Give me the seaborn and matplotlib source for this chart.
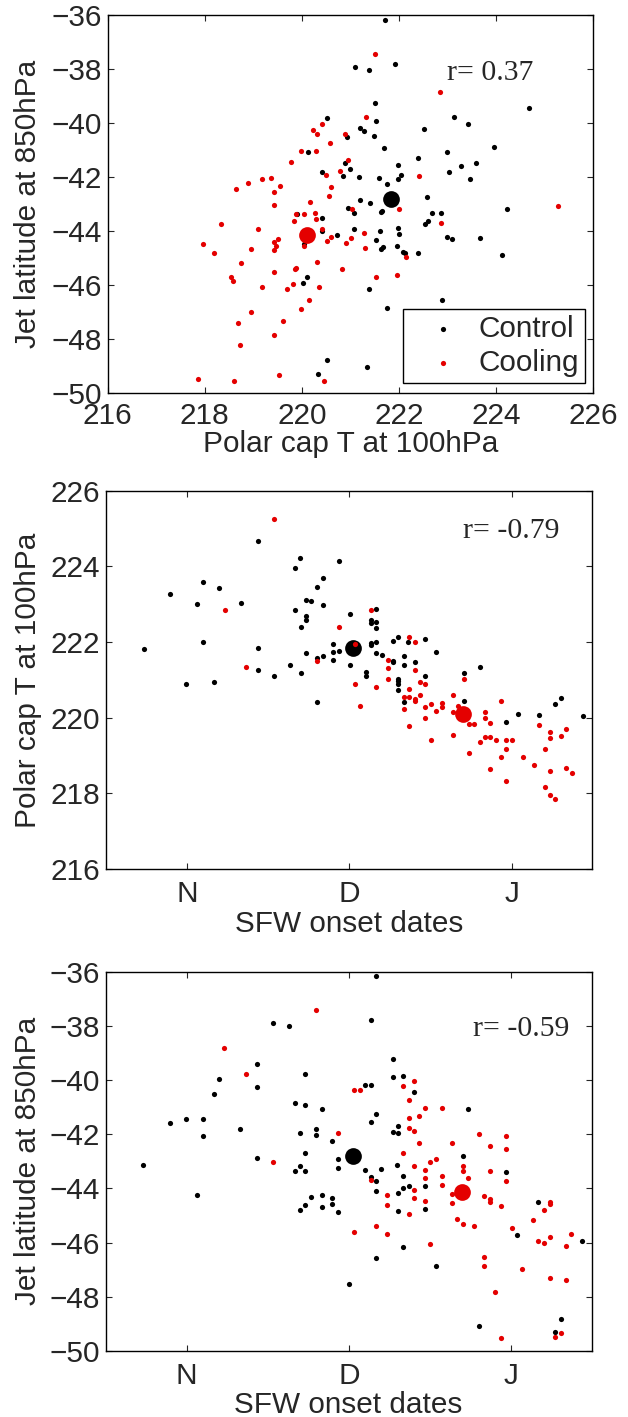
import matplotlib
matplotlib.use("Agg")
import matplotlib.pyplot as plt
import seaborn as sns

# ---- panel 1: polar cap T (x) vs jet latitude (y) ----
p1_ctl_T = [221.71, 221.91, 221.10, 221.38, 221.50, 224.68, 223.13, 221.52, 220.51, 223.43,
            221.20, 221.27, 222.52, 221.48, 220.93, 223.96, 221.69, 220.13, 222.99, 220.88,
            221.97, 223.58, 223.27, 221.00, 220.41, 223.03, 221.18, 220.85, 221.58, 222.04,
            221.99, 223.46, 222.39, 221.76, 222.58, 221.20, 221.41, 224.23, 220.95, 221.08,
            221.65, 221.62, 222.69, 222.86, 219.89, 220.41, 222.60, 222.53, 220.42, 221.61,
            221.97, 222.00, 220.73, 221.08, 222.99, 223.09, 223.67, 221.52, 220.05, 221.63,
            221.67, 221.96, 222.08, 222.13, 222.39, 224.12, 220.10, 220.03, 221.38, 222.88,
            221.75, 220.52, 221.34, 220.34]
p1_ctl_lat = [-36.19, -37.80, -37.92, -38.01, -39.26, -39.43, -39.78, -39.90, -39.82, -40.04,
              -40.18, -40.28, -40.20, -40.46, -40.51, -40.87, -40.91, -41.07, -41.08, -41.46,
              -41.54, -41.46, -41.59, -41.69, -41.80, -41.82, -41.97, -41.94, -42.01, -41.92,
              -42.07, -42.05, -41.27, -42.23, -42.72, -42.83, -42.96, -43.19, -43.13, -43.32,
              -43.24, -43.30, -43.33, -43.33, -43.35, -43.50, -43.60, -43.71, -43.97, -43.97,
              -43.86, -44.09, -44.15, -43.91, -44.20, -44.28, -44.25, -44.32, -44.48, -44.65,
              -44.58, -44.56, -44.75, -44.79, -44.79, -44.86, -45.70, -45.92, -46.14, -46.53,
              -46.85, -48.78, -49.03, -49.27]
p1_cool_T = [221.50, 222.85, 221.33, 220.42, 220.23, 220.32, 220.88, 220.57, 219.99, 220.29,
             220.95, 219.78, 220.79, 220.49, 222.41, 219.36, 219.17, 218.89, 219.54, 220.60,
             218.65, 219.42, 220.55, 220.17, 219.42, 225.27, 221.03, 222.01, 219.87, 220.04,
             220.28, 220.29, 219.83, 222.86, 218.33, 219.09, 220.41, 221.28, 220.60, 219.51,
             221.02, 220.51, 219.42, 220.90, 219.47, 217.96, 220.04, 221.31, 219.42, 218.96,
             218.19, 222.14, 220.32, 218.75, 220.83, 219.87, 219.85, 219.43, 221.96, 221.52,
             218.53, 218.59, 219.82, 219.17, 219.70, 220.36, 220.14, 219.99, 218.96, 219.62,
             218.68, 219.42, 218.73, 219.52, 217.86, 218.61, 220.45]
p1_cool_lat = [-37.44, -38.84, -39.77, -40.04, -40.24, -40.39, -40.39, -40.73, -41.02, -41.03,
               -41.34, -41.42, -41.77, -41.90, -41.96, -42.02, -42.08, -42.21, -42.32, -42.34,
               -42.43, -42.56, -42.70, -42.93, -43.01, -43.05, -43.19, -43.19, -43.34, -43.34,
               -43.32, -43.56, -43.62, -43.70, -43.74, -43.91, -43.91, -44.08, -44.22, -44.29,
               -44.25, -44.36, -44.38, -44.44, -44.53, -44.48, -44.53, -44.61, -44.70, -44.65,
               -44.81, -44.95, -45.13, -45.17, -45.39, -45.34, -45.39, -45.49, -45.60, -45.69,
               -45.68, -45.83, -45.95, -46.05, -46.15, -46.06, -46.53, -46.88, -46.99, -47.31,
               -47.39, -47.83, -48.22, -49.32, -49.48, -49.53, -49.53]

# ---- panel 2: SFW onset (days after 1 Nov) vs polar cap T ----
p2_ctl_day = [-8.1, -3.1, -0.1, 2.0, 3.0, 3.0, 5.1, 6.0, 10.2, 13.3, 13.3, 13.3, 16.3, 19.4,
              20.3, 21.3, 20.3, 21.4, 21.4, 22.4, 23.4, 22.4, 22.4, 22.4, 24.5, 25.5, 25.5,
              24.5, 25.5, 24.5, 28.5, 27.5, 27.5, 27.5, 28.5, 30.6, 30.6, 33.6, 33.6, 34.6,
              34.6, 35.6, 35.6, 35.6, 34.6, 34.6, 35.6, 35.6, 36.7, 38.7, 39.7, 38.7, 38.7,
              41.6, 40.7, 40.7, 42.8, 39.7, 39.7, 39.7, 39.7, 40.7, 44.8, 46.8, 44.8, 52.0,
              55.0, 52.0, 60.0, 62.1, 66.1, 69.2, 70.3, 74.3]
p2_ctl_T = [221.82, 223.27, 220.89, 223.01, 223.58, 221.99, 220.94, 223.43, 223.02, 224.66,
            221.85, 221.26, 221.10, 221.38, 223.96, 224.21, 222.86, 222.39, 221.18, 223.11,
            223.09, 222.69, 222.57, 221.70, 223.46, 223.68, 222.99, 221.59, 221.63, 220.42,
            224.14, 221.96, 221.75, 221.52, 221.76, 222.74, 221.40, 221.20, 221.09, 222.59,
            222.50, 222.88, 222.52, 222.36, 221.97, 221.91, 222.00, 221.70, 221.65, 222.02,
            222.14, 221.51, 221.47, 221.99, 221.62, 221.38, 221.47, 221.02, 220.96, 220.89,
            220.74, 220.41, 222.08, 221.75, 221.09, 221.19, 221.35, 220.44, 219.89, 220.09,
            220.07, 220.35, 220.52, 220.05]
p2_cool_day = [16.3, 7.1, 11.2, 24.5, 28.5, 31.6, 34.6, 31.6, 32.6, 35.6, 37.7, 37.7, 37.7,
               41.7, 42.8, 42.8, 40.7, 41.7, 41.7, 40.7, 41.7, 42.8, 42.8, 43.8, 43.8, 44.8,
               44.8, 44.8, 45.9, 45.9, 46.8, 47.9, 47.9, 49.9, 49.9, 49.9, 50.9, 52.0, 52.9,
               52.9, 54.0, 55.0, 56.0, 56.0, 56.0, 57.0, 57.0, 57.0, 58.0, 59.0, 59.0, 60.0,
               60.0, 60.0, 61.1, 63.1, 65.1, 66.1, 67.2, 67.2, 68.2, 68.2, 68.2, 68.2, 69.2,
               70.3, 71.2, 71.2, 72.3]
p2_cool_T = [225.25, 222.84, 221.33, 221.50, 222.40, 221.95, 222.85, 220.89, 220.31, 220.82,
             221.52, 221.31, 221.02, 222.13, 221.99, 221.26, 220.55, 220.77, 220.56, 220.23,
             219.78, 220.50, 220.45, 220.95, 220.60, 220.89, 220.27, 219.99, 220.37, 219.41,
             220.17, 220.40, 220.28, 220.60, 220.15, 219.53, 220.30, 221.02, 219.83, 219.08,
             219.84, 219.35, 220.15, 219.99, 219.50, 219.86, 219.48, 218.64, 219.42, 220.44,
             218.96, 219.42, 219.17, 218.32, 219.42, 218.96, 218.76, 219.80, 219.16, 218.18,
             219.61, 219.46, 218.59, 217.95, 217.86, 219.51, 219.69, 218.68, 218.53]

# ---- panel 3: SFW onset vs jet latitude ----
p3_ctl_day = [35.6, 34.6, 16.2, 19.3, 38.7, 13.2, 6.1, 38.7, 40.7, 22.3, 13.2, 33.6, 34.6,
              5.1, 42.7, 20.4, 22.3, 25.4, 52.9, -0.1, 3.0, -3.1, 35.6, 34.6, 3.0, 10.1,
              21.3, 24.4, 24.4, 27.4, 39.7, 38.7, 39.7, 22.3, 13.2, 28.5, 28.5, 20.4, 21.3,
              22.3, 33.6, 36.6, 39.6, -8.2, 34.6, 35.6, 40.7, 35.6, 39.7, 40.7, 41.7, 44.8,
              2.0, 23.4, 25.4, 27.4, 22.3, 25.4, 27.4, 21.3, 28.5, 39.7, 44.8, 35.6, 40.7,
              46.8, 30.5, 51.9, 60.0, 62.0, 66.1, 74.3, 54.9, 70.3, 69.2]
p3_ctl_lat = [-36.17, -37.79, -37.90, -37.99, -39.24, -39.42, -39.97, -39.89, -39.84, -39.77,
              -40.26, -40.18, -40.18, -40.53, -40.45, -40.86, -40.91, -41.07, -41.08, -41.45,
              -41.45, -41.58, -41.25, -41.55, -42.06, -41.82, -41.97, -41.80, -42.02, -42.24,
              -41.69, -41.93, -41.96, -42.70, -42.86, -42.93, -43.24, -43.34, -43.19, -43.34,
              -43.33, -43.29, -43.14, -43.12, -43.59, -43.72, -43.54, -44.10, -44.17, -43.99,
              -43.91, -43.92, -44.23, -44.30, -44.25, -44.34, -44.60, -44.67, -44.57, -44.79,
              -44.88, -44.82, -44.77, -46.56, -46.16, -46.88, -47.51, -42.82, -43.38, -45.72,
              -44.49, -45.95, -49.07, -48.82, -49.31]
p3_cool_day = [24.4, 7.1, 11.2, 31.5, 32.5, 42.7, 40.7, 41.7, 44.8, 47.9, 43.7, 41.7, 41.7,
               42.7, 28.5, 54.9, 60.0, 60.0, 57.0, 43.7, 49.9, 40.7, 16.2, 45.7, 46.8, 42.7,
               51.9, 51.9, 44.8, 57.0, 60.0, 44.8, 47.9, 52.9, 34.6, 42.7, 47.9, 49.9, 49.9,
               37.6, 37.6, 42.7, 44.8, 55.9, 57.0, 57.0, 59.0, 68.2, 68.2, 67.2, 41.7, 50.9,
               51.9, 54.0, 35.6, 61.1, 65.1, 31.5, 37.6, 72.3, 66.1, 67.2, 68.2, 71.2, 45.8,
               55.9, 55.9, 63.1, 68.2, 71.2, 58.0, 59.0, 69.2, 70.3]
p3_cool_lat = [-37.43, -38.82, -39.76, -40.38, -40.38, -40.02, -40.22, -40.72, -41.02, -41.02,
               -41.33, -41.40, -41.76, -41.90, -41.96, -42.01, -42.08, -42.55, -42.43, -42.33,
               -42.32, -42.69, -43.03, -43.01, -42.92, -43.18, -43.17, -43.34, -43.33, -43.35,
               -43.73, -43.61, -43.54, -43.61, -43.68, -44.05, -43.88, -44.20, -44.55, -44.24,
               -44.62, -44.36, -44.45, -44.29, -44.39, -44.52, -44.66, -44.51, -44.56, -44.81,
               -44.93, -45.13, -45.31, -45.37, -45.39, -45.47, -45.16, -45.60, -45.70, -45.68,
               -45.93, -46.03, -45.81, -46.14, -46.05, -46.52, -46.87, -46.99, -47.31, -47.39,
               -47.83, -49.53, -49.48, -49.32]

# ensemble means (big dots): control, cooling
mean_T = [221.83, 220.10]
mean_lat = [-42.82, -44.12]
mean_day = [31.2, 51.8]

r_labels = ["r= 0.37", "r= -0.79", "r= -0.59"]
month_ticks = [0, 30.5, 61]
month_labels = ["N", "D", "J"]

BLACK = "black"
RED = "#e40000"

sns.set_style("ticks")
plt.rcParams["font.family"] = ["Liberation Sans", "DejaVu Sans"]
plt.rcParams["font.size"] = 21.4
plt.rcParams["xtick.direction"] = "in"
plt.rcParams["ytick.direction"] = "in"
plt.rcParams["xtick.top"] = True
plt.rcParams["ytick.right"] = True
plt.rcParams["xtick.major.size"] = 4
plt.rcParams["ytick.major.size"] = 4
plt.rcParams["axes.linewidth"] = 1.0


def draw_panel(ax, xc, yc, xr, yr, xm, ym, legend=False):
    sns.scatterplot(x=xc, y=yc, color=BLACK, s=14, linewidth=0, ax=ax,
                    label="Control" if legend else None, legend=False)
    sns.scatterplot(x=[xm[0]], y=[ym[0]], color=BLACK, s=145, linewidth=0, ax=ax, legend=False)
    sns.scatterplot(x=xr, y=yr, color=RED, s=14, linewidth=0, ax=ax,
                    label="Cooling" if legend else None, legend=False)
    sns.scatterplot(x=[xm[1]], y=[ym[1]], color=RED, s=145, linewidth=0, ax=ax, legend=False)
    for sp in ax.spines.values():
        sp.set_visible(True)
        sp.set_color("black")


fig = plt.figure(figsize=(6.28, 14.17), dpi=100)

# panel 1
ax1 = fig.add_axes([0.1715, 0.7224, 0.773, 0.2668])
draw_panel(ax1, p1_ctl_T, p1_ctl_lat, p1_cool_T, p1_cool_lat, mean_T, mean_lat, legend=True)
ax1.set_xlim(216, 226)
ax1.set_ylim(-50, -36)
ax1.set_xticks(range(216, 227, 2))
ax1.set_yticks(range(-50, -35, 2))
ax1.tick_params(axis="x", pad=6)
ax1.tick_params(axis="y", pad=4)
ax1.set_xlabel("Polar cap T at 100hPa")
ax1.set_ylabel("Jet latitude at 850hPa")
ax1.xaxis.set_label_coords(0.5, -0.097)
ax1.yaxis.set_label_coords(-0.135, 0.5)
ax1.text(0.699, 0.829, r_labels[0], transform=ax1.transAxes,
         family=["Liberation Serif", "DejaVu Serif"], fontsize=21.4, va="baseline")
leg = ax1.legend(loc="lower right", bbox_to_anchor=(0.983, 0.028), frameon=True,
                 fancybox=False, borderpad=0.2, handlelength=2.3, handletextpad=0.05,
                 labelspacing=0.2, borderaxespad=0, markerscale=1.0)
leg.get_frame().set_edgecolor("black")
leg.get_frame().set_linewidth(1.0)
leg.get_frame().set_alpha(1)

# panel 2
ax2 = fig.add_axes([0.168, 0.3867, 0.775, 0.267])
draw_panel(ax2, p2_ctl_day, p2_ctl_T, p2_cool_day, p2_cool_T, mean_day, mean_T)
ax2.set_xlim(-15.25, 76.1)
ax2.set_ylim(216, 226)
ax2.set_xticks(month_ticks)
ax2.set_xticklabels(month_labels)
ax2.set_yticks(range(216, 227, 2))
ax2.tick_params(axis="x", pad=8)
ax2.tick_params(axis="y", pad=4)
ax2.set_xlabel("SFW onset dates")
ax2.set_ylabel("Polar cap T at 100hPa")
ax2.xaxis.set_label_coords(0.5, -0.108)
ax2.yaxis.set_label_coords(-0.13, 0.5)
ax2.text(0.734, 0.874, r_labels[1], transform=ax2.transAxes,
         family=["Liberation Serif", "DejaVu Serif"], fontsize=21.4, va="baseline")

# panel 3
ax3 = fig.add_axes([0.168, 0.0466, 0.774, 0.2677])
draw_panel(ax3, p3_ctl_day, p3_ctl_lat, p3_cool_day, p3_cool_lat, mean_day, mean_lat)
ax3.set_xlim(-15.25, 76.1)
ax3.set_ylim(-50, -36)
ax3.set_xticks(month_ticks)
ax3.set_xticklabels(month_labels)
ax3.set_yticks(range(-50, -35, 2))
ax3.tick_params(axis="x", pad=8)
ax3.tick_params(axis="y", pad=4)
ax3.set_xlabel("SFW onset dates")
ax3.set_ylabel("Jet latitude at 850hPa")
ax3.xaxis.set_label_coords(0.5, -0.105)
ax3.yaxis.set_label_coords(-0.13, 0.5)
ax3.text(0.757, 0.830, r_labels[2], transform=ax3.transAxes,
         family=["Liberation Serif", "DejaVu Serif"], fontsize=21.4, va="baseline")

fig.savefig("out.png", dpi=100)
